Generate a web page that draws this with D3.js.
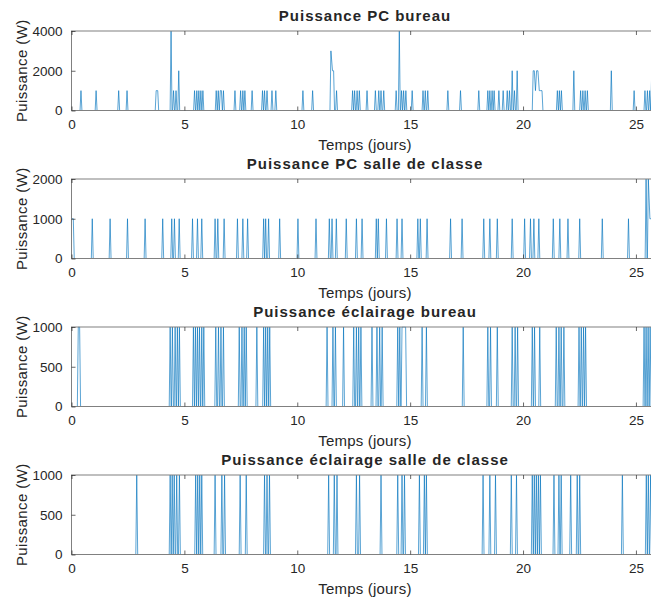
<!DOCTYPE html>
<html>
<head>
<meta charset="utf-8">
<script src="https://cdn.jsdelivr.net/npm/d3@7"></script>
<style>
    body { margin: 0; background: #fff; }
    text { font-family: "Liberation Sans", Arial, Helvetica, sans-serif; fill: #262626; }
</style>
</head>
<body>
<div id="chart"></div>
<script>
// spike times (days) and power values (W)
const pcBureauT = [0.42, 1.09, 2.09, 2.46, 3.75, 3.82, 4.41, 4.52, 4.63, 4.75, 5.45, 5.55, 5.64, 5.73, 5.82,
    6.41, 6.50, 6.59, 6.64, 6.73, 7.24, 7.49, 7.59, 7.68, 8.00, 8.46, 8.55, 8.66, 8.88, 9.05, 10.25, 10.68,
    11.49, 11.56, 11.61, 11.74, 12.45, 12.54, 12.65, 12.75, 13.09, 13.46, 13.61, 13.71, 13.83,
    14.38, 14.52, 14.62, 14.71, 14.81, 15.09, 15.57, 15.67, 15.78, 16.67, 17.23, 18.04,
    18.44, 18.53, 18.63, 18.72, 18.93, 19.12, 19.30, 19.40, 19.52, 19.62, 19.74,
    20.45, 20.50, 20.55, 20.60, 20.66, 20.72, 20.78, 20.84, 21.52, 21.61, 21.70, 22.25,
    22.55, 22.65, 22.75, 22.85, 23.91, 24.92, 25.40, 25.51, 25.61, 25.70];
const pcBureauW = [1000, 1000, 1000, 1000, 1000, 1000, 4000, 1000, 1000, 2000, 1000, 1000, 1000, 1000, 1000,
    1000, 1000, 1000, 1000, 1000, 1000, 1000, 1000, 1000, 1000, 1000, 1000, 1000, 1000, 1000, 1000, 1000,
    3000, 2000, 2000, 1000, 1000, 1000, 1000, 1000, 1000, 1000, 1000, 1000, 1000,
    1000, 4000, 1000, 1000, 1000, 1000, 1000, 1000, 1000, 1000, 1000, 1000,
    1000, 1000, 1000, 1000, 1000, 1000, 1000, 1000, 2000, 1000, 2000,
    2000, 2000, 1000, 2000, 2000, 1000, 1000, 1000, 1000, 1000, 1000, 2000,
    1000, 1000, 1000, 1000, 2000, 1000, 1000, 1000, 1000, 2000];

const pcSalleT = [0.00, 0.08, 0.92, 1.71, 2.48, 3.26, 4.04, 4.44, 4.56, 4.77, 5.36, 5.58, 5.77, 6.36, 6.48, 6.76,
    7.35, 7.59, 7.80, 8.51, 8.60, 8.73, 9.22, 10.03, 10.83, 11.42, 11.54, 11.73, 12.17, 12.62, 12.87,
    13.50, 13.59, 13.95, 14.42, 14.64, 15.34, 15.45, 15.75, 16.79, 17.30, 18.26, 18.53, 18.86, 19.52,
    20.07, 20.33, 20.48, 20.70, 21.34, 21.63, 21.99, 22.51, 23.51, 24.67, 25.45, 25.55, 25.62, 25.70];
const pcSalleW = [1000, 1000, 1000, 1000, 1000, 1000, 1000, 1000, 1000, 1000, 1000, 1000, 1000, 1000, 1000, 1000,
    1000, 1000, 1000, 1000, 1000, 1000, 1000, 1000, 1000, 1000, 1000, 1000, 1000, 1000, 1000,
    1000, 1000, 1000, 1000, 1000, 1000, 1000, 1000, 1000, 1000, 1000, 1000, 1000, 1000,
    1000, 1000, 1000, 1000, 1000, 1000, 1000, 1000, 1000, 1000, 2000, 2000, 1000, 1000];

// lighting is on/off: every listed time is at 1000 W
const eclBureauT = [0.30, 0.36, 4.37, 4.47, 4.59, 4.69, 4.78, 5.40, 5.49, 5.58, 5.67, 5.77, 5.86,
    6.39, 6.51, 6.62, 6.73, 7.43, 7.55, 7.65, 7.74, 8.21, 8.51, 8.60, 8.69, 8.78,
    11.32, 11.58, 11.69, 12.05, 12.50, 12.62, 12.72, 12.82, 13.31, 13.53, 13.65, 13.76,
    14.45, 14.54, 14.64, 14.72, 14.80, 15.53, 15.72, 17.35, 18.44, 18.56, 18.86,
    19.52, 19.65, 19.76, 20.41, 20.51, 20.74, 21.47, 21.59, 21.69, 21.81,
    22.48, 22.58, 22.68, 22.77, 25.36, 25.45, 25.54, 25.63];
const eclSalleT = [2.89, 4.37, 4.46, 4.55, 4.66, 4.78, 5.50, 5.59, 5.68, 5.77, 6.36, 6.66, 6.78,
    7.47, 7.74, 8.55, 8.66, 8.77, 11.39, 11.64, 11.76, 12.62, 12.76, 13.71,
    14.45, 14.64, 14.75, 15.41, 15.63, 15.72, 18.23, 18.53, 18.78, 19.48, 19.71,
    20.41, 20.50, 20.59, 20.68, 20.77, 21.37, 21.59, 21.69, 22.11, 22.40, 22.51,
    24.40, 25.46, 25.55, 25.65];

const titles = ["Puissance PC bureau", "Puissance PC salle de classe",
    "Puissance éclairage bureau", "Puissance éclairage salle de classe"];
const yMaxes = [4000, 2000, 1000, 1000];
const yTicks = [[0, 2000, 4000], [0, 1000, 2000], [0, 500, 1000], [0, 500, 1000]];
const xTicks = [0, 5, 10, 15, 20, 25];

const W = 651, H = 599;
const dt = 1 / 24;      // one sample per hour
const xEnd = 26;

// turn a list of spikes into a line that sits on 0 between them
function buildSeries(times, values) {
    const pts = [];
    let prev = null;
    times.forEach(function (t, i) {
        if (prev === null) {
            if (t > dt) { pts.push([0, 0]); pts.push([t - dt, 0]); }
        } else if (t - prev > 2 * dt) {
            pts.push([prev + dt, 0]);
            pts.push([t - dt, 0]);
        }
        pts.push([t, values[i]]);
        prev = t;
    });
    pts.push([prev + dt, 0]);
    pts.push([xEnd + 1, 0]);
    return pts;
}

const series = [
    buildSeries(pcBureauT, pcBureauW),
    buildSeries(pcSalleT, pcSalleW),
    buildSeries(eclBureauT, eclBureauT.map(() => 1000)),
    buildSeries(eclSalleT, eclSalleT.map(() => 1000))
];

var svg = d3.select("#chart")
    .append("svg")
    .attr("width", W)
    .attr("height", H)
    .style("display", "block");

svg.append("rect").attr("width", W).attr("height", H).attr("fill", "#fff");

const left = 71.5, right = 658.5;
const plotH = 79.5;

var x = d3.scaleLinear().domain([0, xEnd]).range([left, right]);

series.forEach(function (data, k) {
    const top = 31 + k * 148;
    const bottom = top + plotH;

    var y = d3.scaleLinear().domain([0, yMaxes[k]]).range([bottom, top]);

    var g = svg.append("g");

    svg.append("clipPath")
        .attr("id", "clip" + k)
        .append("rect")
        .attr("x", left).attr("y", top - 0.5)
        .attr("width", right - left).attr("height", plotH + 1);

    // data line
    g.append("path")
        .datum(data)
        .attr("clip-path", "url(#clip" + k + ")")
        .attr("fill", "none")
        .attr("stroke", "#0072BD")
        .attr("stroke-width", 0.65)
        .attr("stroke-linejoin", "round")
        .attr("d", d3.line().x(d => x(d[0])).y(d => y(d[1])));

    // box
    g.append("rect")
        .attr("x", left).attr("y", top)
        .attr("width", right - left).attr("height", plotH)
        .attr("fill", "none")
        .attr("stroke", "#808080")
        .attr("stroke-width", 1);

    // X axis (ticks inside, bottom and top)
    var xAxis = g.append("g")
        .attr("transform", "translate(0," + bottom + ")")
        .call(d3.axisBottom(x).tickValues(xTicks).tickSize(-4).tickPadding(9).tickFormat(d3.format("d")));
    xAxis.select(".domain").remove();
    xAxis.selectAll("line").attr("stroke", "#262626").attr("stroke-width", 0.7);
    xAxis.selectAll("text").style("font-size", "13.5px").attr("fill", "#262626");

    var xTop = g.append("g")
        .attr("transform", "translate(0," + top + ")")
        .call(d3.axisTop(x).tickValues(xTicks).tickSize(-4).tickFormat(""));
    xTop.select(".domain").remove();
    xTop.selectAll("line").attr("stroke", "#262626").attr("stroke-width", 0.7);

    // Y axis
    var yAxis = g.append("g")
        .attr("transform", "translate(" + left + ",0)")
        .call(d3.axisLeft(y).tickValues(yTicks[k]).tickSize(-4).tickPadding(9).tickFormat(d3.format("d")));
    yAxis.select(".domain").remove();
    yAxis.selectAll("line").attr("stroke", "#262626").attr("stroke-width", 0.7);
    yAxis.selectAll("text").style("font-size", "13.5px").attr("fill", "#262626");

    // labels
    g.append("text")
        .attr("x", (left + right) / 2)
        .attr("y", bottom + 39)
        .attr("text-anchor", "middle")
        .style("font-size", "15px")
        .style("letter-spacing", "0.2px")
        .text("Temps (jours)");

    g.append("text")
        .attr("transform", "translate(27," + ((top + bottom) / 2) + ")rotate(-90)")
        .attr("text-anchor", "middle")
        .style("font-size", "15px")
        .style("letter-spacing", "0.4px")
        .text("Puissance (W)");

    // Title
    g.append("text")
        .attr("x", (left + right) / 2)
        .attr("y", top - 10)
        .attr("text-anchor", "middle")
        .style("font-size", "15px")
        .style("font-weight", "bold")
        .style("letter-spacing", "1px")
        .attr("fill", "#000")
        .text(titles[k]);
});
</script>
</body>
</html>
